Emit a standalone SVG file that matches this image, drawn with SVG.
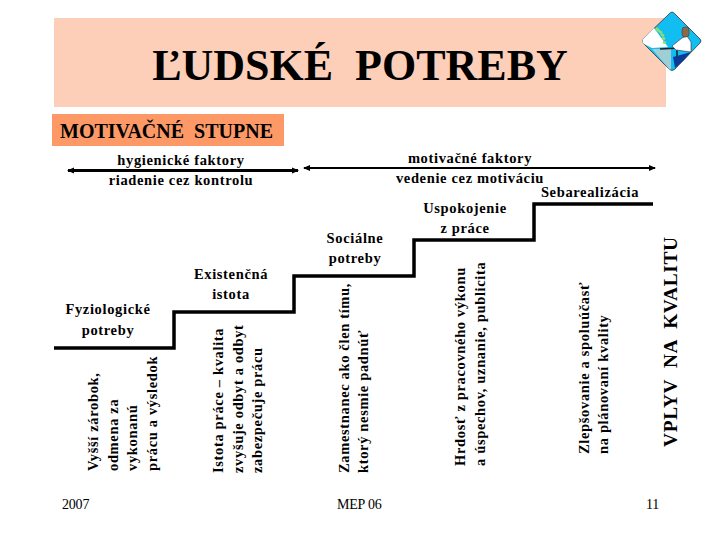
<svg xmlns="http://www.w3.org/2000/svg" width="720" height="540" viewBox="0 0 720 540">
<style>
text{font-family:"Liberation Serif","Times New Roman",serif;fill:#000}
.b{font-weight:bold;font-size:14.5px;letter-spacing:.65px}
.c{text-anchor:middle}
.f{font-size:14px;letter-spacing:-.2px}
.step{fill:none;stroke:#000;stroke-width:3.5}
.ar{fill:none;stroke:#000}
</style>
<defs>
<marker id="ah" markerUnits="userSpaceOnUse" markerWidth="8" markerHeight="8" refX="6" refY="4" orient="auto-start-reverse"><path d="M0 1L7 4L0 7Z" fill="#000"/></marker>
</defs>
<rect width="720" height="540" fill="#fff"/>
<g id="title"><rect x="54" y="18" width="612" height="89" fill="#fdcfb8"/>
<text x="360" y="80" class="c" font-size="44" font-weight="bold" xml:space="preserve">ĽUDSKÉ  POTREBY</text></g>
<g id="icon">
<path d="M672 12Q673 12 675 14L700 39Q702 41 700 43L675 69Q672 72 669 69L644 44Q641 41 644 38L669 14Q671 12 672 12Z" fill="#12bdf2" stroke="#222" stroke-width=".7"/>
<path d="M644 38L654 28L668 47L652 48L644 44Q641 41 644 38Z" fill="#fff"/>
<path d="M652 49L671 49L671 69Q670 70 669 69Z" fill="#9fcfd4"/>
<path d="M656 28l3 3M659 31l3 2M661 34l3 2M662 38l3 1M663 42l3 1" stroke="#8fe06a" stroke-width="2.5"/>
<path d="M660 49L680 48M677 48V66" stroke="#123" stroke-width="1.5" fill="none"/>
<path d="M672 46L682 38L687 36L691 42L691 52L676 50Z" fill="#fff" stroke="#333" stroke-width=".6"/>
<rect x="682" y="27" width="7" height="10" rx="3" fill="#8a6a4a" stroke="#333" stroke-width=".5"/>
<path d="M673 57L691 52L684 60L675 68Z" fill="#0c3a96"/>
</g>
<g id="stupne"><rect x="52" y="114" width="232" height="32" fill="#fd9966"/>
<text x="60" y="138" font-size="20" font-weight="bold" xml:space="preserve">MOTIVAČNÉ  STUPNE</text></g>
<g id="connectors">
<path class="ar" stroke-width="3" d="M68 170.500H298" marker-start="url(#ah)" marker-end="url(#ah)"/>
<path class="ar" stroke-width="2" d="M304 168H655" marker-start="url(#ah)" marker-end="url(#ah)"/>
<path class="step" d="M54 348H174V312H294V276H414V240H534V204H653"/>
</g>
<g id="hyg" class="b c"><text x="181" y="165">hygienické faktory</text><text x="181" y="185">riadenie cez kontrolu</text></g>
<g id="mot" class="b c"><text x="470" y="163">motivačné faktory</text><text x="470" y="183">vedenie cez motiváciu</text></g>
<g id="s1" class="b c"><text x="108" y="314">Fyziologické</text><text x="108" y="335">potreby</text>
<g text-anchor="start"><text transform="translate(98 471) rotate(-90)">Vyšší zárobok,</text><text transform="translate(118 471) rotate(-90)">odmena za</text><text transform="translate(137 471) rotate(-90)">vykonanú</text><text transform="translate(157 471) rotate(-90)">prácu a výsledok</text></g></g>
<g id="s2" class="b c"><text x="231" y="279">Existenčná</text><text x="231" y="299">istota</text>
<g text-anchor="start"><text transform="translate(223 473) rotate(-90)">Istota práce – kvalita</text><text transform="translate(243 473) rotate(-90)">zvyšuje odbyt a odbyt</text><text transform="translate(262 473) rotate(-90)">zabezpečuje prácu</text></g></g>
<g id="s3" class="b c"><text x="355" y="243">Sociálne</text><text x="355" y="263">potreby</text>
<g text-anchor="start"><text transform="translate(349 473) rotate(-90)">Zamestnanec ako člen tímu,</text><text transform="translate(368 473) rotate(-90)">ktorý nesmie padnúť</text></g></g>
<g id="s4" class="b c"><text x="465" y="213">Uspokojenie</text><text x="465" y="233">z práce</text>
<g text-anchor="start"><text transform="translate(465 466) rotate(-90)">Hrdosť z pracovného výkonu</text><text transform="translate(485 466) rotate(-90)">a úspechov, uznanie, publicita</text></g></g>
<g id="s5" class="b c"><text x="590" y="197">Sebarealizácia</text>
<g text-anchor="start"><text transform="translate(589 454) rotate(-90)">Zlepšovanie a spoluúčasť</text><text transform="translate(608 454) rotate(-90)">na plánovaní kvality</text></g></g>
<text id="vplyv" transform="translate(677 447) rotate(-90)" font-size="19.4" font-weight="bold" xml:space="preserve" letter-spacing=".65">VPLYV  NA  KVALITU</text>
<g id="footer" class="f"><text x="62" y="509">2007</text><text x="337" y="509">MEP 06</text><text x="646" y="509">11</text></g>
</svg>
